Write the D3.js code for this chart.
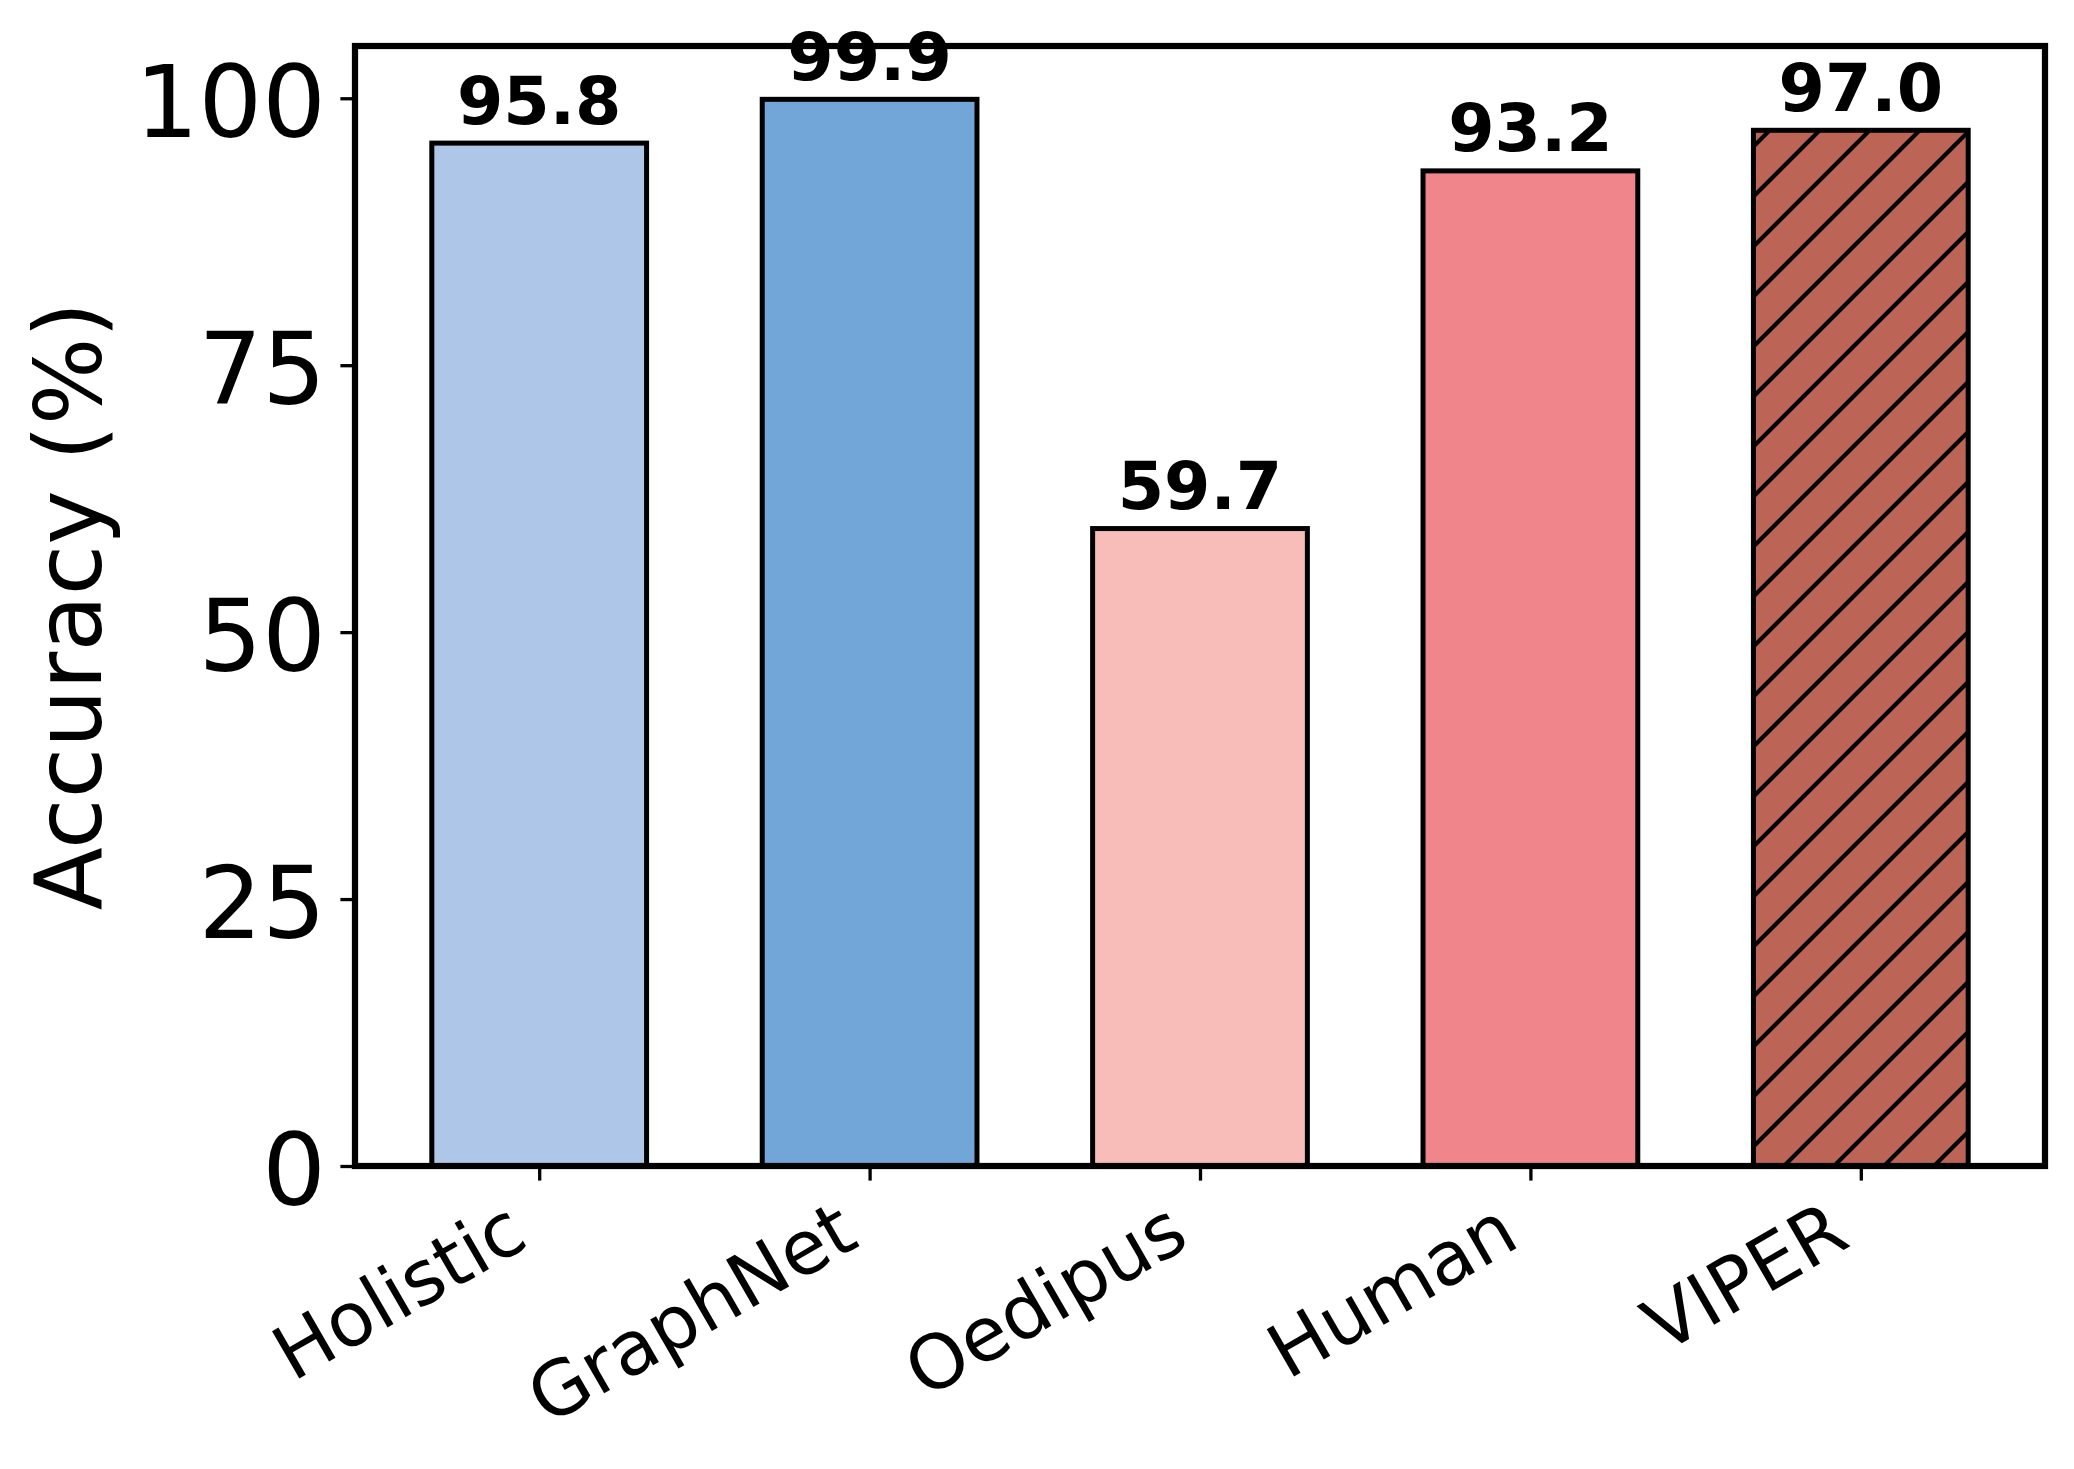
<!DOCTYPE html>
<html>
<head>
<meta charset="utf-8">
<script src="https://cdn.jsdelivr.net/npm/d3@7"></script>
<style>
  html, body { margin: 0; padding: 0; background: #ffffff; }
  svg { display: block; }
  text { font-family: "DejaVu Sans", sans-serif; fill: #000; }
</style>
</head>
<body>
<svg id="chart" width="2074" height="1469"></svg>
<script>
// ---- data ----
const categories = ["Holistic", "GraphNet", "Oedipus", "Human", "VIPER"];
const accuracy = [95.8, 99.9, 59.7, 93.2, 97.0];
const barColors = ["#aec7e8", "#72a6d8", "#f8bdb9", "#f0868b", "#bc6557"];
const hatched = [false, false, false, false, true];
const yTicks = [0, 25, 50, 75, 100];
const yLabel = "Accuracy (%)";

// ---- layout ----
const W = 2074, H = 1469;
const plot = { left: 355, right: 2045, top: 46, bottom: 1166 };
const barWidth = 0.65;
const svg = d3.select("#chart");
svg.append("rect").attr("width", W).attr("height", H).attr("fill", "#fff");

const xPad = (categories.length - 1 + barWidth) * 0.05;
const x = d3.scaleLinear()
  .domain([-barWidth / 2 - xPad, categories.length - 1 + barWidth / 2 + xPad])
  .range([plot.left, plot.right]);
const y = d3.scaleLinear()
  .domain([0, d3.max(accuracy) * 1.05])
  .range([plot.bottom, plot.top]);

// hatch pattern
const defs = svg.append("defs");
const pat = defs.append("pattern")
  .attr("id", "hatch").attr("patternUnits", "userSpaceOnUse")
  .attr("width", 50).attr("height", 50);
pat.append("path")
  .attr("d", "M-5,55 L55,-5 M-5,5 L5,-5 M45,55 L55,45")
  .attr("stroke", "#000").attr("stroke-width", 4.2).attr("fill", "none");

// bars
const bars = svg.append("g");
categories.forEach((c, i) => {
  const x0 = x(i - barWidth / 2), x1 = x(i + barWidth / 2);
  const yt = y(accuracy[i]), yb = y(0);
  bars.append("rect")
    .attr("x", x0).attr("y", yt).attr("width", x1 - x0).attr("height", yb - yt)
    .attr("fill", barColors[i]);
  if (hatched[i]) {
    bars.append("rect")
      .attr("x", x0).attr("y", yt).attr("width", x1 - x0).attr("height", yb - yt)
      .attr("fill", "url(#hatch)");
  }
  bars.append("rect")
    .attr("x", x0).attr("y", yt).attr("width", x1 - x0).attr("height", yb - yt)
    .attr("fill", "none").attr("stroke", "#000").attr("stroke-width", 5);
});

// value labels
svg.append("g").selectAll("text").data(accuracy).join("text")
  .attr("x", (d, i) => x(i))
  .attr("y", d => y(d) - 19.5)
  .attr("text-anchor", "middle")
  .attr("font-weight", "bold")
  .attr("font-size", 66.7)
  .text(d => d3.format(".1f")(d));

// y axis
const yAxis = svg.append("g")
  .attr("transform", `translate(${plot.left},0)`)
  .call(d3.axisLeft(y).tickValues(yTicks).tickSize(14.6).tickPadding(14.6));
yAxis.select(".domain").remove();
yAxis.selectAll(".tick line").attr("stroke", "#000").attr("stroke-width", 3.3);
yAxis.selectAll(".tick text")
  .attr("font-size", 100).attr("font-family", "DejaVu Sans, sans-serif")
  .attr("dy", "0.38em").attr("fill", "#000");

// x axis
const xAxis = svg.append("g")
  .attr("transform", `translate(0,${plot.bottom})`)
  .call(d3.axisBottom(x).tickValues(d3.range(categories.length))
    .tickFormat(i => categories[i]).tickSize(14.6));
xAxis.select(".domain").remove();
xAxis.selectAll(".tick line").attr("stroke", "#000").attr("stroke-width", 3.3);
xAxis.selectAll(".tick text")
  .attr("font-size", 75).attr("font-family", "DejaVu Sans, sans-serif")
  .attr("fill", "#000")
  .attr("text-anchor", "end")
  .attr("dy", null)
  .attr("x", -9).attr("y", 79)
  .attr("transform", "rotate(-30,-9,79)");

// spines
svg.append("rect")
  .attr("x", plot.left).attr("y", plot.top)
  .attr("width", plot.right - plot.left).attr("height", plot.bottom - plot.top)
  .attr("fill", "none").attr("stroke", "#000").attr("stroke-width", 6.25);

// y label
svg.append("text")
  .attr("transform", `translate(101,${(plot.top + plot.bottom) / 2}) rotate(-90)`)
  .attr("text-anchor", "middle")
  .attr("font-size", 92)
  .text(yLabel);
</script>
</body>
</html>
